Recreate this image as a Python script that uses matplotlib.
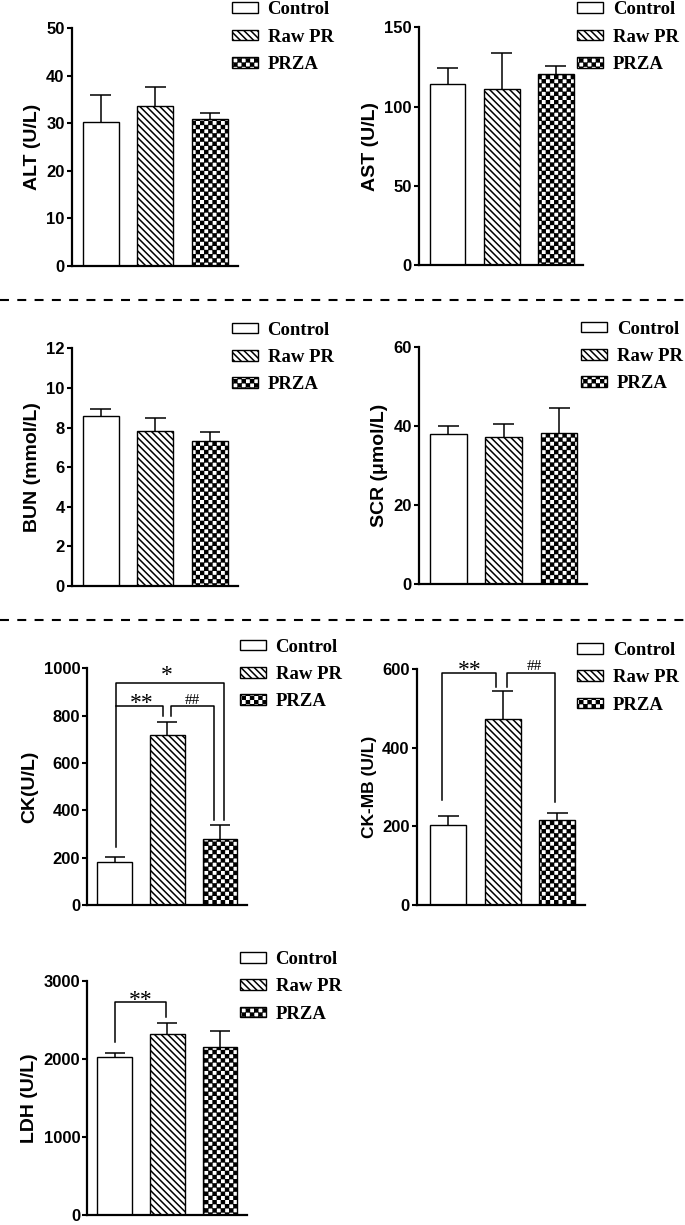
import warnings
import matplotlib
matplotlib.use('Agg')
import matplotlib.pyplot as plt
from matplotlib import hatch as mhatch
from matplotlib.path import Path
from matplotlib.lines import Line2D

warnings.simplefilter('ignore')

plt.rcParams['font.family'] = ['Liberation Sans', 'DejaVu Sans']
plt.rcParams['font.weight'] = 'bold'
plt.rcParams['hatch.linewidth'] = 1.1

groups = ['Control', 'Raw PR', 'PRZA']

alt_mean = [30.3, 33.7, 31.0]
alt_err = [5.7, 4.0, 1.2]
ast_mean = [114.5, 111.3, 120.8]
ast_err = [9.8, 22.7, 4.6]
bun_mean = [8.58, 7.81, 7.34]
bun_err = [0.38, 0.66, 0.44]
scr_mean = [38.1, 37.2, 38.4]
scr_err = [2.0, 3.3, 6.3]
ck_mean = [180, 718, 277]
ck_err = [21, 57, 60]
ckmb_mean = [204, 474, 217]
ckmb_err = [23.5, 71, 16]
ldh_mean = [2027, 2320, 2147]
ldh_err = [43, 140, 209]

# significance brackets: (x_left, x_right, y_top, y_left_end, y_right_end)
ck_brackets = [(0.03, 2.07, 937, 246, 359), (0.03, 0.92, 841, 841, 799),
               (1.07, 1.88, 841, 799, 359)]
ck_marks = [('*', 1.0, 968), ('**', 0.51, 852), ('##', 1.47, 866)]
ckmb_brackets = [(-0.11, 0.88, 590, 267, 554), (1.07, 1.96, 590, 554, 263)]
ckmb_marks = [('**', 0.39, 596), ('##', 1.58, 607)]
ldh_brackets = [(0.0, 0.98, 2722, 2218, 2538)]
ldh_marks = [('**', 0.49, 2750)]


class CheckerHatch(mhatch.HatchPatternBase):
    """Filled checkerboard hatch, triggered by the letter 'c'."""
    filled = True

    def __init__(self, hatch, density):
        n = hatch.count('c') * 24
        self.n = n
        self.cells = [(i, j) for i in range(n) for j in range(n) if (i + j) % 2 == 0]
        self.num_vertices = len(self.cells) * 5

    def set_vertices_and_codes(self, vertices, codes):
        s = 1.0 / self.n
        inset = 0.006
        for k, (i, j) in enumerate(self.cells):
            x0, y0 = i * s + inset, j * s + inset
            x1, y1 = (i + 1) * s - inset, (j + 1) * s - inset
            vertices[5 * k:5 * k + 5] = [(x0, y0), (x1, y0), (x1, y1), (x0, y1), (x0, y0)]
            codes[5 * k:5 * k + 5] = [Path.MOVETO, Path.LINETO, Path.LINETO,
                                      Path.LINETO, Path.CLOSEPOLY]


mhatch._hatch_types.append(CheckerHatch)

hatches = ['', '\\\\\\\\\\', 'c']

W, H = 685, 1225
fig = plt.figure(figsize=(W / 100, H / 100), dpi=100)


def px_axes(l, t, r, b):
    return fig.add_axes([l / W, 1 - b / H, (r - l) / W, (b - t) / H])


panels = [
    dict(rect=(71.7, 28.3, 238, 265.7), mean=alt_mean, err=alt_err, ymax=50, step=10,
         label='ALT (U/L)', leg=(232, 8.3), xl=-0.53),
    dict(rect=(419, 27.3, 583.3, 265), mean=ast_mean, err=ast_err, ymax=150, step=50,
         label='AST (U/L)', leg=(577, 8.3), xl=-0.53),
    dict(rect=(71.7, 348.3, 238, 586), mean=bun_mean, err=bun_err, ymax=12, step=2,
         label='BUN (mmol/L)', leg=(232, 328.7), xl=-0.53),
    dict(rect=(419, 347.3, 587.3, 584), mean=scr_mean, err=scr_err, ymax=60, step=20,
         label='SCR (μmol/L)', leg=(581, 327.5), xl=-0.53),
    dict(rect=(87.3, 668.3, 246.7, 905), mean=ck_mean, err=ck_err, ymax=1000, step=200,
         label='CK(U/L)', leg=(240, 645.5), xl=-0.52,
         brackets=ck_brackets, marks=ck_marks),
    dict(rect=(416.7, 669.3, 585, 905), mean=ckmb_mean, err=ckmb_err, ymax=600, step=200,
         label='CK-MB (U/L)', leg=(577, 649), xl=-0.58, lsize=12.5,
         brackets=ckmb_brackets, marks=ckmb_marks),
    dict(rect=(87.3, 980.7, 246.7, 1215), mean=ldh_mean, err=ldh_err, ymax=3000, step=1000,
         label='LDH (U/L)', leg=(240, 958), xl=-0.52,
         brackets=ldh_brackets, marks=ldh_marks),
]

legend_font = dict(family='Liberation Serif', weight='bold', size=13.5)

for p in panels:
    ax = px_axes(*p['rect'])
    xs = range(len(groups))
    for i, g in enumerate(groups):
        ax.bar(i, p['mean'][i], width=0.66, color='white', edgecolor='black',
               linewidth=1.0, hatch=hatches[i], label=g, zorder=2)
    tops = [m + e for m, e in zip(p['mean'], p['err'])]
    ax.vlines(xs, p['mean'], tops, colors='black', linewidth=1.1, zorder=1)
    ax.hlines(tops, [x - 0.19 for x in xs], [x + 0.19 for x in xs],
              colors='black', linewidth=1.1, zorder=1)

    for xl, xr, yt, yle, yre in p.get('brackets', []):
        ax.plot([xl, xl, xr, xr], [yle, yt, yt, yre], color='black', lw=1.1,
                clip_on=False, zorder=3)
    for txt, x, y in p.get('marks', []):
        size = 17 if '*' in txt else 11
        ax.text(x, y, txt, ha='center', va='center', fontsize=size,
                family='Liberation Serif', fontweight='normal', zorder=4)

    ax.set_xlim(p['xl'], 2.51)
    ax.set_ylim(0, p['ymax'])
    ax.set_yticks(range(0, p['ymax'] + 1, p['step']))
    ax.spines['top'].set_visible(False)
    ax.spines['right'].set_visible(False)
    ax.spines['left'].set_linewidth(1.6)
    ax.spines['bottom'].set_linewidth(1.6)
    ax.tick_params(axis='x', bottom=False, labelbottom=False)
    ax.tick_params(axis='y', direction='out', length=3.6, width=1.5,
                   labelsize=12, pad=1.5)
    ax.set_ylabel(p['label'], fontsize=p.get('lsize', 14), fontweight='bold',
                  labelpad=4)

    lx, ly = p['leg']
    ax.legend(loc='upper left', bbox_to_anchor=(lx / W, 1 - (ly - 7) / H),
              bbox_transform=fig.transFigure, frameon=False, prop=legend_font,
              handlelength=1.4, handleheight=0.5, handletextpad=0.5,
              labelspacing=0.55, borderpad=0, borderaxespad=0)

for y in (300, 620):
    fig.add_artist(Line2D([0, 1], [1 - y / H, 1 - y / H], transform=fig.transFigure,
                          color='black', lw=1.5, dashes=(4.3, 4.0)))

fig.savefig('out.png', dpi=100)
